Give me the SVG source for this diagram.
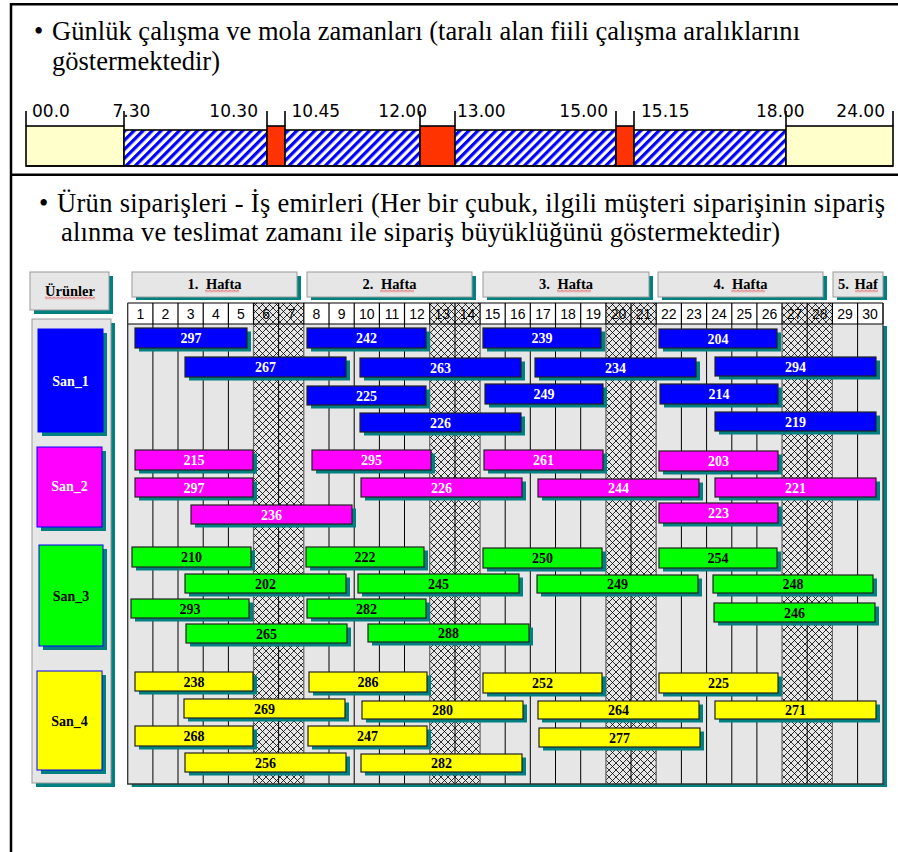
<svg xmlns="http://www.w3.org/2000/svg" width="898" height="852" viewBox="0 0 898 852">
<style>
.title{font-family:"Liberation Serif","Times New Roman",serif;font-size:26.5px;fill:#000}
.tl{font-family:"DejaVu Sans",Verdana,sans-serif;font-size:17px;fill:#000}
.seg{stroke:#000;stroke-width:1.6}
.tick{stroke:#000;stroke-width:1.6;fill:none}
.panel{fill:#e6e6e6;stroke:#999;stroke-width:1}
.sh{fill:#008080}
.hd{font-family:"Liberation Serif","Times New Roman",serif;font-weight:bold;font-size:14.5px;text-anchor:middle;fill:#000}
.dn{font-family:"Liberation Sans",Arial,sans-serif;font-size:14px;text-anchor:middle;fill:#000}
.bar{stroke:#222;stroke-width:1.2}
.c1{fill:#0000ff}.c2{fill:#ff00ff}.c3{fill:#00ff00}.c4{fill:#ffff00}
.lb{font-family:"Liberation Serif","Times New Roman",serif;font-weight:bold;font-size:14px;text-anchor:middle}
.w{fill:#fff}.k{fill:#000}
.prod{stroke:#0000ff;stroke-width:1}
</style>
<defs>
<pattern id="stripes" width="6.4" height="6.4" patternUnits="userSpaceOnUse" patternTransform="rotate(45)">
<rect width="6.4" height="6.4" fill="#fff"/>
<rect width="3.2" height="6.4" fill="#0000ff"/>
</pattern>
<pattern id="cross" width="7" height="7" patternUnits="userSpaceOnUse">
<rect width="7" height="7" fill="#e6e6e6"/>
<path d="M0,0 L7,7 M7,0 L0,7" stroke="#000" stroke-width="0.8" fill="none"/>
</pattern>
<pattern id="sq1" x="0" y="289.5" width="4" height="3" patternUnits="userSpaceOnUse">
<path d="M0,2.5 L2,0.5 L4,2.5" fill="none" stroke="#e00000" stroke-width="0.8"/>
</pattern>
<pattern id="sq2" x="0" y="296.5" width="4" height="3" patternUnits="userSpaceOnUse">
<path d="M0,2.5 L2,0.5 L4,2.5" fill="none" stroke="#e00000" stroke-width="0.8"/>
</pattern>
</defs>
<rect width="898" height="852" fill="#fff"/>

<!-- frame -->
<path d="M11,852 V4.3 H898 M11,174.7 H898" fill="none" stroke="#000" stroke-width="2.5"/>

<!-- section 1 -->
<g id="title1">
<text class="title" x="34" y="40">•</text>
<text class="title" x="52" y="40" textLength="748" lengthAdjust="spacing">Günlük çalışma ve mola zamanları (taralı alan fiili çalışma aralıklarını</text>
<text class="title" x="52" y="70" textLength="168" lengthAdjust="spacing">göstermektedir)</text>
</g>

<g id="timeline">
<rect class="seg" x="26" y="126" width="98" height="40" fill="#ffffcc"/>
<rect class="seg" x="124" y="130" width="143" height="36" fill="url(#stripes)"/>
<rect class="seg" x="267" y="126" width="18" height="40" fill="#ff3300"/>
<rect class="seg" x="285" y="130" width="135" height="36" fill="url(#stripes)"/>
<rect class="seg" x="420" y="126" width="35" height="40" fill="#ff3300"/>
<rect class="seg" x="455" y="130" width="161" height="36" fill="url(#stripes)"/>
<rect class="seg" x="616" y="126" width="18" height="40" fill="#ff3300"/>
<rect class="seg" x="634" y="130" width="152" height="36" fill="url(#stripes)"/>
<rect class="seg" x="786" y="126" width="107" height="40" fill="#ffffcc"/>
<path class="tick" d="M26,111V126 M124,111V126 M267,111V126 M285,111V126 M420,111V126 M455,111V126 M616,111V126 M634,111V126 M786,111V126 M893,111V126 M26,166H893"/>
<text class="tl" x="32" y="117">00.0</text>
<text class="tl" x="112.5" y="117">7.30</text>
<text class="tl" x="258" y="117" text-anchor="end">10.30</text>
<text class="tl" x="291.5" y="117">10.45</text>
<text class="tl" x="427" y="117" text-anchor="end">12.00</text>
<text class="tl" x="457" y="117">13.00</text>
<text class="tl" x="608" y="117" text-anchor="end">15.00</text>
<text class="tl" x="641" y="117">15.15</text>
<text class="tl" x="756" y="117">18.00</text>
<text class="tl" x="885" y="117" text-anchor="end">24.00</text>
</g>

<!-- section 2 -->
<g id="title2">
<text class="title" x="39" y="212">•</text>
<text class="title" x="57" y="212" textLength="828" lengthAdjust="spacing">Ürün siparişleri - İş emirleri (Her bir çubuk, ilgili müşteri siparişinin sipariş</text>
<text class="title" x="61" y="241" textLength="719" lengthAdjust="spacing">alınma ve teslimat zamanı ile sipariş büyüklüğünü göstermektedir)</text>
</g>

<!-- header boxes -->
<g id="urunler">
<rect class="sh" x="34" y="276" width="79" height="38"/>
<rect class="panel" x="30" y="272" width="79" height="38"/>
<text class="hd" x="70" y="296">Ürünler</text>
<rect x="45" y="296.5" width="50" height="3" fill="url(#sq2)"/>
</g>
<g id="week1">
<rect class="sh" x="136" y="276" width="165" height="24"/>
<rect class="panel" x="132" y="272" width="165" height="25"/>
<text class="hd" x="214.5" y="289">1. <tspan dx="4">Hafta</tspan></text>
<rect x="205" y="289.5" width="34" height="3" fill="url(#sq1)"/>
</g>
<g id="week2">
<rect class="sh" x="311" y="276" width="165" height="24"/>
<rect class="panel" x="307" y="272" width="165" height="25"/>
<text class="hd" x="389.5" y="289">2. <tspan dx="4">Hafta</tspan></text>
<rect x="380" y="289.5" width="34" height="3" fill="url(#sq1)"/>
</g>
<g id="week3">
<rect class="sh" x="487" y="276" width="166" height="24"/>
<rect class="panel" x="483" y="272" width="166" height="25"/>
<text class="hd" x="566" y="289">3. <tspan dx="4">Hafta</tspan></text>
<rect x="557" y="289.5" width="34" height="3" fill="url(#sq1)"/>
</g>
<g id="week4">
<rect class="sh" x="662" y="276" width="165" height="24"/>
<rect class="panel" x="658" y="272" width="165" height="25"/>
<text class="hd" x="740.5" y="289">4. <tspan dx="4">Hafta</tspan></text>
<rect x="731" y="289.5" width="34" height="3" fill="url(#sq1)"/>
</g>
<g id="week5">
<rect class="sh" x="837" y="276" width="50" height="24"/>
<rect class="panel" x="833" y="272" width="50" height="25"/>
<text class="hd" x="858" y="289">5. <tspan dx="2">Haf</tspan></text>
<rect x="855" y="289.5" width="23" height="3" fill="url(#sq1)"/>
</g>

<!-- product panel -->
<g id="product-panel">
<rect class="sh" x="36" y="323" width="79" height="464"/>
<rect class="panel" x="32" y="319" width="79" height="464"/>
</g>
<g id="san1">
<rect class="sh" x="42" y="333" width="65" height="103"/>
<rect class="c1 prod" x="38" y="329" width="65" height="103"/>
<text class="lb w" x="70.5" y="386">San_1</text>
</g>
<g id="san2">
<rect class="sh" x="41" y="451" width="65" height="80"/>
<rect class="c2 prod" x="37" y="447" width="65" height="80"/>
<text class="lb w" x="69.5" y="491">San_2</text>
</g>
<g id="san3">
<rect class="sh" x="43" y="549" width="64" height="101"/>
<rect class="c3 prod" x="39" y="545" width="64" height="101"/>
<text class="lb k" x="71" y="601">San_3</text>
</g>
<g id="san4">
<rect class="sh" x="41" y="675" width="65" height="99"/>
<rect class="c4 prod" x="37" y="671" width="65" height="99"/>
<text class="lb k" x="69.5" y="726">San_4</text>
</g>

<!-- grid -->
<g id="grid">
<rect class="sh" x="131.7" y="326" width="755.3" height="461"/>
<rect x="127.7" y="303" width="755.3" height="481" fill="#e6e6e6"/>
<rect x="127.7" y="303" width="755.3" height="21" fill="#fff"/>
<rect x="253.5" y="303" width="50.3" height="481" fill="url(#cross)"/>
<rect x="429.7" y="303" width="50.3" height="481" fill="url(#cross)"/>
<rect x="605.9" y="303" width="50.3" height="481" fill="url(#cross)"/>
<rect x="782" y="303" width="50.4" height="481" fill="url(#cross)"/>
<path d="M152.9,324V784 M178.0,324V784 M203.2,324V784 M228.4,324V784 M278.6,324V784 M329.0,324V784 M354.2,324V784 M379.4,324V784 M404.5,324V784 M455.0,324V784 M505.2,324V784 M530.3,324V784 M555.5,324V784 M580.7,324V784 M631.0,324V784 M681.4,324V784 M706.6,324V784 M731.8,324V784 M756.9,324V784 M807.2,324V784 M857.6,324V784" stroke="#000" stroke-width="1" fill="none"/>
<path d="M253.5,324V784 M303.8,324V784 M429.7,324V784 M480.1,324V784 M605.9,324V784 M656.2,324V784 M782.0,324V784 M832.4,324V784" stroke="#666" stroke-width="1.2" fill="none"/>
<path d="M127.7,303H883 M127.7,324H883 M152.9,303V324 M178.0,303V324 M203.2,303V324 M228.4,303V324 M253.5,303V324 M278.6,303V324 M303.8,303V324 M329.0,303V324 M354.2,303V324 M379.4,303V324 M404.5,303V324 M429.7,303V324 M455.0,303V324 M480.1,303V324 M505.2,303V324 M530.3,303V324 M555.5,303V324 M580.7,303V324 M605.9,303V324 M631.0,303V324 M656.2,303V324 M681.4,303V324 M706.6,303V324 M731.8,303V324 M756.9,303V324 M782.0,303V324 M807.2,303V324 M832.4,303V324 M857.6,303V324 M883,303V324" stroke="#000" stroke-width="1.2" fill="none"/>
<path d="M127.7,303V784H883V303" stroke="#333" stroke-width="1.3" fill="none"/>
<g class="dn">
<text x="140.3" y="319">1</text><text x="165.5" y="319">2</text><text x="190.6" y="319">3</text><text x="215.8" y="319">4</text><text x="241" y="319">5</text>
<text x="266.1" y="319">6</text><text x="291.3" y="319">7</text><text x="316.4" y="319">8</text><text x="341.6" y="319">9</text><text x="366.8" y="319">10</text>
<text x="392" y="319">11</text><text x="417.1" y="319">12</text><text x="442.3" y="319">13</text><text x="467.5" y="319">14</text><text x="492.6" y="319">15</text>
<text x="517.8" y="319">16</text><text x="543" y="319">17</text><text x="568.1" y="319">18</text><text x="593.3" y="319">19</text><text x="618.5" y="319">20</text>
<text x="643.6" y="319">21</text><text x="668.8" y="319">22</text><text x="694" y="319">23</text><text x="719.1" y="319">24</text><text x="744.3" y="319">25</text>
<text x="769.5" y="319">26</text><text x="794.6" y="319">27</text><text x="819.8" y="319">28</text><text x="845" y="319">29</text><text x="870.1" y="319">30</text>
</g>
</g>

<!-- San_1 orders -->
<g id="san1-orders">
<g id="o1-297"><rect class="sh" x="139" y="331.5" width="112" height="20"/><rect class="bar c1" x="135" y="328" width="112" height="20"/><text class="lb w" x="191" y="343">297</text></g>
<g id="o1-242"><rect class="sh" x="311" y="331.5" width="119" height="20"/><rect class="bar c1" x="307" y="328" width="119" height="20"/><text class="lb w" x="366.5" y="343">242</text></g>
<g id="o1-239"><rect class="sh" x="487" y="331.5" width="118" height="20"/><rect class="bar c1" x="483" y="328" width="118" height="20"/><text class="lb w" x="542" y="343">239</text></g>
<g id="o1-204"><rect class="sh" x="663" y="332.5" width="118" height="19"/><rect class="bar c1" x="659" y="329" width="118" height="19"/><text class="lb w" x="718" y="343.5">204</text></g>
<g id="o1-267"><rect class="sh" x="189" y="360.5" width="161" height="20"/><rect class="bar c1" x="185" y="357" width="161" height="20"/><text class="lb w" x="265.5" y="372">267</text></g>
<g id="o1-263"><rect class="sh" x="364" y="361.5" width="161" height="19"/><rect class="bar c1" x="360" y="358" width="161" height="19"/><text class="lb w" x="440.5" y="372.5">263</text></g>
<g id="o1-234"><rect class="sh" x="539" y="361.5" width="161" height="19"/><rect class="bar c1" x="535" y="358" width="161" height="19"/><text class="lb w" x="615.5" y="372.5">234</text></g>
<g id="o1-294"><rect class="sh" x="719" y="360.5" width="161" height="19"/><rect class="bar c1" x="715" y="357" width="161" height="19"/><text class="lb w" x="795.5" y="371.5">294</text></g>
<g id="o1-225"><rect class="sh" x="311" y="389.5" width="119" height="19"/><rect class="bar c1" x="307" y="386" width="119" height="19"/><text class="lb w" x="366.5" y="400.5">225</text></g>
<g id="o1-249"><rect class="sh" x="489" y="387.5" width="118" height="20"/><rect class="bar c1" x="485" y="384" width="118" height="20"/><text class="lb w" x="544" y="399">249</text></g>
<g id="o1-214"><rect class="sh" x="664" y="387.5" width="118" height="20"/><rect class="bar c1" x="660" y="384" width="118" height="20"/><text class="lb w" x="719" y="399">214</text></g>
<g id="o1-226"><rect class="sh" x="364" y="416.5" width="161" height="19"/><rect class="bar c1" x="360" y="413" width="161" height="19"/><text class="lb w" x="440.5" y="427.5">226</text></g>
<g id="o1-219"><rect class="sh" x="719" y="415.5" width="161" height="19"/><rect class="bar c1" x="715" y="412" width="161" height="19"/><text class="lb w" x="795.5" y="426.5">219</text></g>
</g>

<!-- San_2 orders -->
<g id="san2-orders">
<g id="o2-215"><rect class="sh" x="139" y="453.5" width="118" height="20"/><rect class="bar c2" x="135" y="450" width="118" height="20"/><text class="lb w" x="194" y="465">215</text></g>
<g id="o2-295"><rect class="sh" x="316" y="453.5" width="119" height="20"/><rect class="bar c2" x="312" y="450" width="119" height="20"/><text class="lb w" x="371.5" y="465">295</text></g>
<g id="o2-261"><rect class="sh" x="488" y="453.5" width="119" height="20"/><rect class="bar c2" x="484" y="450" width="119" height="20"/><text class="lb w" x="543.5" y="465">261</text></g>
<g id="o2-203"><rect class="sh" x="663" y="454.5" width="119" height="20"/><rect class="bar c2" x="659" y="451" width="119" height="20"/><text class="lb w" x="718.5" y="466">203</text></g>
<g id="o2-297"><rect class="sh" x="139" y="481.5" width="118" height="19"/><rect class="bar c2" x="135" y="478" width="118" height="19"/><text class="lb w" x="194" y="492.5">297</text></g>
<g id="o2-226"><rect class="sh" x="365" y="481.5" width="161" height="19"/><rect class="bar c2" x="361" y="478" width="161" height="19"/><text class="lb w" x="441.5" y="492.5">226</text></g>
<g id="o2-244"><rect class="sh" x="542" y="482.5" width="161" height="18"/><rect class="bar c2" x="538" y="479" width="161" height="18"/><text class="lb w" x="618.5" y="493">244</text></g>
<g id="o2-221"><rect class="sh" x="719" y="481.5" width="161" height="19"/><rect class="bar c2" x="715" y="478" width="161" height="19"/><text class="lb w" x="795.5" y="492.5">221</text></g>
<g id="o2-236"><rect class="sh" x="195" y="508.5" width="161" height="19"/><rect class="bar c2" x="191" y="505" width="161" height="19"/><text class="lb w" x="271.5" y="519.5">236</text></g>
<g id="o2-223"><rect class="sh" x="663" y="506.5" width="119" height="20"/><rect class="bar c2" x="659" y="503" width="119" height="20"/><text class="lb w" x="718.5" y="518">223</text></g>
</g>

<!-- San_3 orders -->
<g id="san3-orders">
<g id="o3-210"><rect class="sh" x="136" y="550.5" width="119" height="20"/><rect class="bar c3" x="132" y="547" width="119" height="20"/><text class="lb k" x="191.5" y="562">210</text></g>
<g id="o3-222"><rect class="sh" x="310" y="550.5" width="118" height="20"/><rect class="bar c3" x="306" y="547" width="118" height="20"/><text class="lb k" x="365" y="562">222</text></g>
<g id="o3-250"><rect class="sh" x="487" y="551.5" width="119" height="20"/><rect class="bar c3" x="483" y="548" width="119" height="20"/><text class="lb k" x="542.5" y="563">250</text></g>
<g id="o3-254"><rect class="sh" x="663" y="551.5" width="118" height="20"/><rect class="bar c3" x="659" y="548" width="118" height="20"/><text class="lb k" x="718" y="563">254</text></g>
<g id="o3-202"><rect class="sh" x="189" y="577.5" width="161" height="19"/><rect class="bar c3" x="185" y="574" width="161" height="19"/><text class="lb k" x="265.5" y="588.5">202</text></g>
<g id="o3-245"><rect class="sh" x="362" y="577.5" width="161" height="19"/><rect class="bar c3" x="358" y="574" width="161" height="19"/><text class="lb k" x="438.5" y="588.5">245</text></g>
<g id="o3-249"><rect class="sh" x="541" y="578.5" width="161" height="18"/><rect class="bar c3" x="537" y="575" width="161" height="18"/><text class="lb k" x="617.5" y="589">249</text></g>
<g id="o3-248"><rect class="sh" x="717" y="578.5" width="160" height="18"/><rect class="bar c3" x="713" y="575" width="160" height="18"/><text class="lb k" x="793" y="589">248</text></g>
<g id="o3-293"><rect class="sh" x="135" y="602.5" width="118" height="19"/><rect class="bar c3" x="131" y="599" width="118" height="19"/><text class="lb k" x="190" y="613.5">293</text></g>
<g id="o3-282"><rect class="sh" x="311" y="602.5" width="119" height="19"/><rect class="bar c3" x="307" y="599" width="119" height="19"/><text class="lb k" x="366.5" y="613.5">282</text></g>
<g id="o3-246"><rect class="sh" x="718" y="606.5" width="161" height="19"/><rect class="bar c3" x="714" y="603" width="161" height="19"/><text class="lb k" x="794.5" y="617.5">246</text></g>
<g id="o3-265"><rect class="sh" x="190" y="627.5" width="161" height="19"/><rect class="bar c3" x="186" y="624" width="161" height="19"/><text class="lb k" x="266.5" y="638.5">265</text></g>
<g id="o3-288"><rect class="sh" x="372" y="627.5" width="161" height="18"/><rect class="bar c3" x="368" y="624" width="161" height="18"/><text class="lb k" x="448.5" y="638">288</text></g>
</g>

<!-- San_4 orders -->
<g id="san4-orders">
<g id="o4-238"><rect class="sh" x="139" y="675.5" width="118" height="19"/><rect class="bar c4" x="135" y="672" width="118" height="19"/><text class="lb k" x="194" y="686.5">238</text></g>
<g id="o4-286"><rect class="sh" x="313" y="675.5" width="118" height="20"/><rect class="bar c4" x="309" y="672" width="118" height="20"/><text class="lb k" x="368" y="687">286</text></g>
<g id="o4-252"><rect class="sh" x="487" y="676.5" width="119" height="20"/><rect class="bar c4" x="483" y="673" width="119" height="20"/><text class="lb k" x="542.5" y="688">252</text></g>
<g id="o4-225"><rect class="sh" x="663" y="676.5" width="119" height="20"/><rect class="bar c4" x="659" y="673" width="119" height="20"/><text class="lb k" x="718.5" y="688">225</text></g>
<g id="o4-269"><rect class="sh" x="188" y="702.5" width="161" height="19"/><rect class="bar c4" x="184" y="699" width="161" height="19"/><text class="lb k" x="264.5" y="713.5">269</text></g>
<g id="o4-280"><rect class="sh" x="366" y="704.5" width="161" height="18"/><rect class="bar c4" x="362" y="701" width="161" height="18"/><text class="lb k" x="442.5" y="715">280</text></g>
<g id="o4-264"><rect class="sh" x="542" y="704.5" width="161" height="18"/><rect class="bar c4" x="538" y="701" width="161" height="18"/><text class="lb k" x="618.5" y="715">264</text></g>
<g id="o4-271"><rect class="sh" x="719" y="704.5" width="161" height="18"/><rect class="bar c4" x="715" y="701" width="161" height="18"/><text class="lb k" x="795.5" y="715">271</text></g>
<g id="o4-268"><rect class="sh" x="139" y="729.5" width="118" height="20"/><rect class="bar c4" x="135" y="726" width="118" height="20"/><text class="lb k" x="194" y="741">268</text></g>
<g id="o4-247"><rect class="sh" x="312" y="729.5" width="119" height="20"/><rect class="bar c4" x="308" y="726" width="119" height="20"/><text class="lb k" x="367.5" y="741">247</text></g>
<g id="o4-277"><rect class="sh" x="543" y="731.5" width="161" height="19"/><rect class="bar c4" x="539" y="728" width="161" height="19"/><text class="lb k" x="619.5" y="742.5">277</text></g>
<g id="o4-256"><rect class="sh" x="189" y="756.5" width="161" height="19"/><rect class="bar c4" x="185" y="753" width="161" height="19"/><text class="lb k" x="265.5" y="767.5">256</text></g>
<g id="o4-282"><rect class="sh" x="365" y="757.5" width="161" height="18"/><rect class="bar c4" x="361" y="754" width="161" height="18"/><text class="lb k" x="441.5" y="768">282</text></g>
</g>
</svg>
